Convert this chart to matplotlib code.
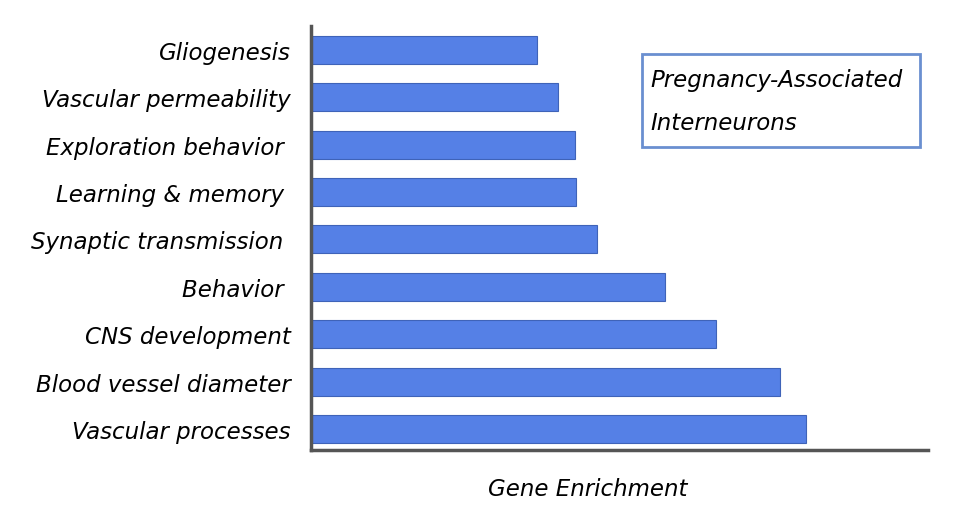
import matplotlib
matplotlib.use("Agg")
import matplotlib.pyplot as plt

# categories listed bottom -> top
terms = ["Vascular processes", "Blood vessel diameter", "CNS development",
         "Behavior ", "Synaptic transmission ", "Learning & memory ",
         "Exploration behavior ", "Vascular permeability", "Gliogenesis"]
enrichment = [9.90, 9.38, 8.10, 7.08, 5.72, 5.30, 5.28, 4.94, 4.52]

fs = 16.5

fig = plt.figure(figsize=(9.6, 5.1), dpi=100)
ax = fig.add_axes([0.324, 0.116, 0.643, 0.831])

ypos = list(range(len(terms)))
ax.barh(ypos, enrichment, height=0.59, color="#5580E6",
        edgecolor="#3F63B8", linewidth=0.8)

ax.set_xlim(0, 12.34)
ax.set_ylim(-0.44, 8.5)
ax.set_yticks(ypos)
ax.set_yticklabels(terms, fontsize=fs, style="italic")
ax.tick_params(axis="y", length=0, pad=14.5)
ax.set_xticks([])

for s in ["top", "right"]:
    ax.spines[s].set_visible(False)
for s in ["left", "bottom"]:
    ax.spines[s].set_color("#555555")
    ax.spines[s].set_linewidth(2.5)

fig.text(588 / 960, 1 - 490 / 510, "Gene Enrichment", fontsize=fs,
         style="italic", ha="center", va="center")

# annotation box
box = plt.Rectangle((642 / 960, 1 - 148 / 510), 278 / 960, 93 / 510,
                    transform=fig.transFigure, fill=False,
                    edgecolor="#6A8FD0", linewidth=2)
fig.add_artist(box)
fig.text(650 / 960, 1 - 80 / 510, "Pregnancy-Associated", fontsize=fs,
         style="italic", va="center", ha="left")
fig.text(650 / 960, 1 - 123 / 510, "Interneurons", fontsize=fs,
         style="italic", va="center", ha="left")

fig.savefig("out.png", dpi=100)
